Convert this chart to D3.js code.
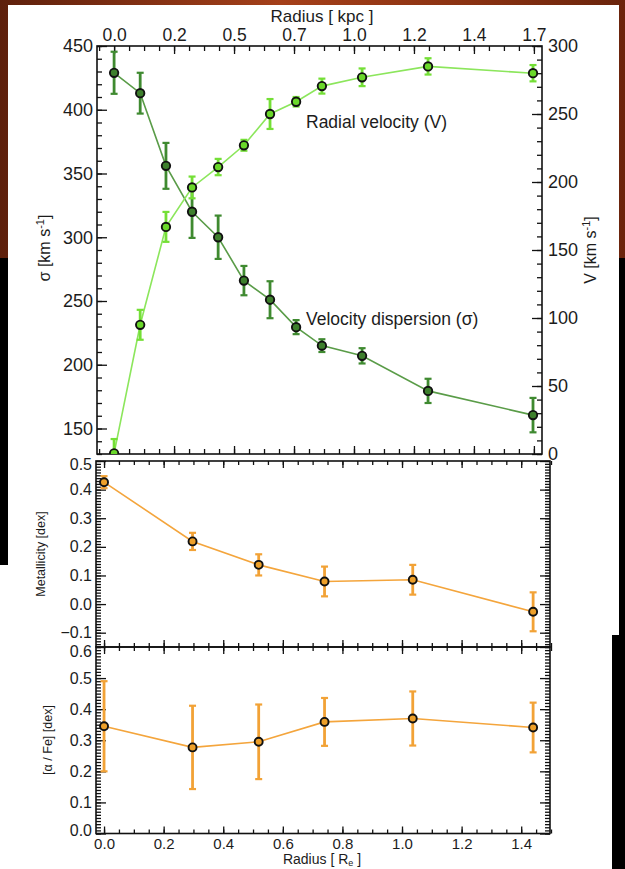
<!DOCTYPE html>
<html>
<head>
<meta charset="utf-8">
<script src="https://cdn.jsdelivr.net/npm/d3@7"></script>
<style>
  body { margin: 0; background: #000; }
  svg { display: block; }
  text { font-family: "Liberation Sans", Arial, sans-serif; fill: #1c1c1c; }
</style>
</head>
<body>
<svg id="fig" width="625" height="869"></svg>
<script>
// ---- data ----
// top panel: radius in units of R_e
const radiusKin = [0, 0.087, 0.173, 0.26, 0.347, 0.433, 0.52, 0.607, 0.693, 0.827, 1.047, 1.397];
const sigma = [429, 413, 356, 320, 300, 266, 251, 229.5, 215, 207, 179.5, 160.5];
const sigmaErr = [16.5, 16, 18, 20.5, 17, 11.5, 14.5, 5.5, 5, 6, 9.5, 13.5];
const velocity = [0.5, 95, 167, 196, 211, 227, 250, 259, 270.5, 277, 285, 280];
const velocityErr = [10.5, 11, 11, 8, 6, 4, 11, 3.5, 5.5, 6.5, 6, 6];

// top axis: ticks placed at R_e values, labelled in kpc
const kpcTickRe = [0, 0.2, 0.4, 0.6, 0.8, 1.0, 1.2, 1.4];
const kpcTickLabels = ["0.0", "0.2", "0.5", "0.7", "1.0", "1.2", "1.4", "1.7"];

// lower panels
const radiusPop = [0, 0.297, 0.519, 0.74, 1.036, 1.44];
const metallicity = [0.426, 0.219, 0.137, 0.079, 0.085, -0.027];
const metallicityErr = [0.021, 0.03, 0.037, 0.052, 0.052, 0.068];
const alphaFe = [0.345, 0.277, 0.295, 0.359, 0.370, 0.341];
const alphaFeErr = [0.145, 0.134, 0.12, 0.077, 0.087, 0.08];

const svg = d3.select("#fig");

// ---- background (slide) ----
let defs = svg.append("defs");
let grad = defs.append("linearGradient").attr("id", "neb").attr("x1", 0).attr("x2", 1);
grad.append("stop").attr("offset", "0%").attr("stop-color", "#5e200c");
grad.append("stop").attr("offset", "45%").attr("stop-color", "#a5401a");
grad.append("stop").attr("offset", "75%").attr("stop-color", "#8a3212");
grad.append("stop").attr("offset", "100%").attr("stop-color", "#6a240c");
svg.append("rect").attr("width", 625).attr("height", 869).attr("fill", "#000");
svg.append("rect").attr("width", 625).attr("height", 258).attr("fill", "url(#neb)");
svg.append("rect").attr("x", 8).attr("y", 5).attr("width", 611).attr("height", 630).attr("fill", "#fff");
svg.append("rect").attr("x", 0).attr("y", 565).attr("width", 612).attr("height", 304).attr("fill", "#fff");

// ---- scales ----
const xTop = d3.scaleLinear().domain([-0.057, 1.427]).range([97, 542]);
const ySigma = d3.scaleLinear().domain([130, 450]).range([454, 46]);
const yV = d3.scaleLinear().domain([0, 300]).range([454, 46]);

const xBot = d3.scaleLinear().domain([-0.027, 1.5]).range([96, 551]);
const yMet = d3.scaleLinear().domain([-0.15, 0.5]).range([647, 461]);
const yAlpha = d3.scaleLinear().domain([0, 0.6]).range([833.5, 647]);

function range(a, b, step) {
  let out = [];
  for (let i = 0; a + i * step <= b + 1e-9; i++) out.push(+(a + i * step).toFixed(4));
  return out;
}

// inward ticks on one side; minor first, then major with labels
function ticks(g, axisFn, scale, pos, minor, major, minLen, majLen, fmt, fontSize) {
  let gm = g.append("g").attr("transform", pos)
    .call(axisFn(scale).tickValues(minor).tickSizeInner(-minLen).tickSizeOuter(0).tickFormat(""));
  gm.select(".domain").remove();
  let gM = g.append("g").attr("transform", pos)
    .call(axisFn(scale).tickValues(major).tickSizeInner(-majLen).tickSizeOuter(0).tickPadding(4)
      .tickFormat(fmt || ""));
  gM.select(".domain").remove();
  g.selectAll("line").attr("stroke", "#111").attr("stroke-width", 1.3);
  gM.selectAll("text").style("font-size", fontSize + "px").attr("fill", "#1c1c1c");
  return gM;
}

// ---- top panel: kinematics ----
let panelKin = svg.append("g");

ticks(panelKin, d3.axisLeft, ySigma, "translate(97,0)", range(130, 450, 10), range(150, 450, 50), 5, 10, d3.format("d"), 18);
ticks(panelKin, d3.axisRight, yV, "translate(542,0)", range(0, 300, 10), range(0, 300, 50), 5, 10, d3.format("d"), 18)
  .selectAll("text").attr("x", 6);
let gTopAx = ticks(panelKin, d3.axisTop, xTop, "translate(0,46)", range(-0.05, 1.4, 0.05), kpcTickRe, 5, 8,
  (d, i) => kpcTickLabels[i], 17.5);
gTopAx.selectAll("text").attr("y", -5);
ticks(panelKin, d3.axisBottom, xTop, "translate(0,454)", range(-0.05, 1.4, 0.05), kpcTickRe, 5, 8, null, 18);

panelKin.append("rect").attr("x", 97).attr("y", 46).attr("width", 445).attr("height", 408)
  .attr("fill", "none").attr("stroke", "#111").attr("stroke-width", 1.6);

panelKin.append("text").attr("x", 322).attr("y", 22).attr("text-anchor", "middle")
  .style("font-size", "17px").text("Radius [ kpc ]");

let ySigLab = panelKin.append("text").attr("transform", "translate(50,248) rotate(-90)")
  .attr("text-anchor", "middle").style("font-size", "16px");
ySigLab.append("tspan").text("σ [km s");
ySigLab.append("tspan").attr("dy", -6).style("font-size", "11px").text("-1");
ySigLab.append("tspan").attr("dy", 6).text("]");

let yVLab = panelKin.append("text").attr("transform", "translate(596,250) rotate(-90)")
  .attr("text-anchor", "middle").style("font-size", "16px");
yVLab.append("tspan").text("V [km s");
yVLab.append("tspan").attr("dy", -6).style("font-size", "11px").text("-1");
yVLab.append("tspan").attr("dy", 6).text("]");

defs.append("clipPath").attr("id", "clipTop").append("rect")
  .attr("x", 97).attr("y", 46).attr("width", 445).attr("height", 408);

function series(g, xs, xScale, vals, errs, yScale, lineCol, barCol, fillCol, cap, barW, r, clip) {
  let layer = g.append("g");
  if (clip) layer.attr("clip-path", clip);
  layer.append("path")
    .datum(vals.map((v, i) => [xs[i], v]))
    .attr("fill", "none").attr("stroke", lineCol).attr("stroke-width", 1.6)
    .attr("d", d3.line().x(d => xScale(d[0])).y(d => yScale(d[1])));
  let eb = layer.selectAll("g.eb").data(vals).join("g").attr("class", "eb");
  eb.append("line")
    .attr("x1", (d, i) => xScale(xs[i])).attr("x2", (d, i) => xScale(xs[i]))
    .attr("y1", (d, i) => yScale(d + errs[i])).attr("y2", (d, i) => yScale(d - errs[i]))
    .attr("stroke", barCol).attr("stroke-width", barW);
  [1, -1].forEach(s => {
    eb.append("line")
      .attr("x1", (d, i) => xScale(xs[i]) - cap).attr("x2", (d, i) => xScale(xs[i]) + cap)
      .attr("y1", (d, i) => yScale(d + s * errs[i])).attr("y2", (d, i) => yScale(d + s * errs[i]))
      .attr("stroke", barCol).attr("stroke-width", 2.2);
  });
  layer.selectAll("circle").data(vals).join("circle")
    .attr("cx", (d, i) => xScale(xs[i])).attr("cy", d => yScale(d))
    .attr("r", r).attr("fill", fillCol).attr("stroke", "#111").attr("stroke-width", 1.9);
}

series(panelKin, radiusKin, xTop, sigma, sigmaErr, ySigma, "#5a9c48", "#3f8a30", "#3d7f2c", 3.5, 2.8, 4.2, "url(#clipTop)");
series(panelKin, radiusKin, xTop, velocity, velocityErr, yV, "#8ce65c", "#74df36", "#6ad82a", 3.5, 2.8, 4.2, "url(#clipTop)");

panelKin.append("text").attr("x", 306).attr("y", 128).style("font-size", "17.5px").text("Radial velocity (V)");
panelKin.append("text").attr("x", 306).attr("y", 325).style("font-size", "17.5px").text("Velocity dispersion (σ)");

// ---- metallicity panel ----
let pm = svg.append("g");
let metLeft = ticks(pm, d3.axisLeft, yMet, "translate(96,0)", range(-0.15, 0.5, 0.01), range(-0.1, 0.5, 0.1), 5, 10,
  d => d3.format(".1f")(d).replace("-", "–"), 16);
metLeft.selectAll("text").filter(d => d > 0.45).attr("dy", "0.52em");
ticks(pm, d3.axisRight, yMet, "translate(550,0)", range(-0.15, 0.5, 0.01), range(-0.1, 0.5, 0.1), 5, 10, null, 15);
ticks(pm, d3.axisTop, xBot, "translate(0,461)", range(0, 1.5, 0.05), range(0, 1.4, 0.2), 4, 7, null, 15);
ticks(pm, d3.axisBottom, xBot, "translate(0,647)", range(0, 1.5, 0.05), range(0, 1.4, 0.2), 4, 7, null, 15);
pm.append("rect").attr("x", 96).attr("y", 461).attr("width", 454).attr("height", 186)
  .attr("fill", "none").attr("stroke", "#111").attr("stroke-width", 1.6);
pm.append("text").attr("transform", "translate(45,554) rotate(-90)").attr("text-anchor", "middle")
  .style("font-size", "12.5px").text("Metallicity [dex]");
series(pm, radiusPop, xBot, metallicity, metallicityErr, yMet, "#f4a53c", "#f2a236", "#eea02a", 3.5, 2.8, 4, null);

// ---- alpha/Fe panel ----
let pa = svg.append("g");
let aLeft = ticks(pa, d3.axisLeft, yAlpha, "translate(96,0)", range(0, 0.6, 0.01), range(0, 0.6, 0.1), 5, 10, d3.format(".1f"), 16);
aLeft.selectAll("text").filter(d => d > 0.55).attr("dy", "0.6em");
aLeft.selectAll("text").filter(d => d < 0.05).attr("dy", "0.15em");
ticks(pa, d3.axisRight, yAlpha, "translate(550,0)", range(0, 0.6, 0.01), range(0, 0.6, 0.1), 5, 10, null, 15);
ticks(pa, d3.axisTop, xBot, "translate(0,647)", range(0, 1.5, 0.05), range(0, 1.4, 0.2), 4, 7, null, 15);
ticks(pa, d3.axisBottom, xBot, "translate(0,833.5)", range(0, 1.5, 0.05), range(0, 1.4, 0.2), 4, 7, d3.format(".1f"), 15)
  .selectAll("text").attr("y", 5);
pa.append("rect").attr("x", 96).attr("y", 647).attr("width", 454).attr("height", 186.5)
  .attr("fill", "none").attr("stroke", "#111").attr("stroke-width", 1.6);
pa.append("text").attr("transform", "translate(52,740) rotate(-90)").attr("text-anchor", "middle")
  .style("font-size", "12.5px").text("[α / Fe] [dex]");
let xLab = pa.append("text").attr("x", 322).attr("y", 864).attr("text-anchor", "middle").style("font-size", "14px");
xLab.append("tspan").text("Radius [ R");
xLab.append("tspan").attr("dy", 2).style("font-size", "9px").text("e");
xLab.append("tspan").attr("dy", -2).text(" ]");
series(pa, radiusPop, xBot, alphaFe, alphaFeErr, yAlpha, "#f4a53c", "#f2a236", "#eea02a", 3.5, 2.8, 4, null);
</script>
</body>
</html>
